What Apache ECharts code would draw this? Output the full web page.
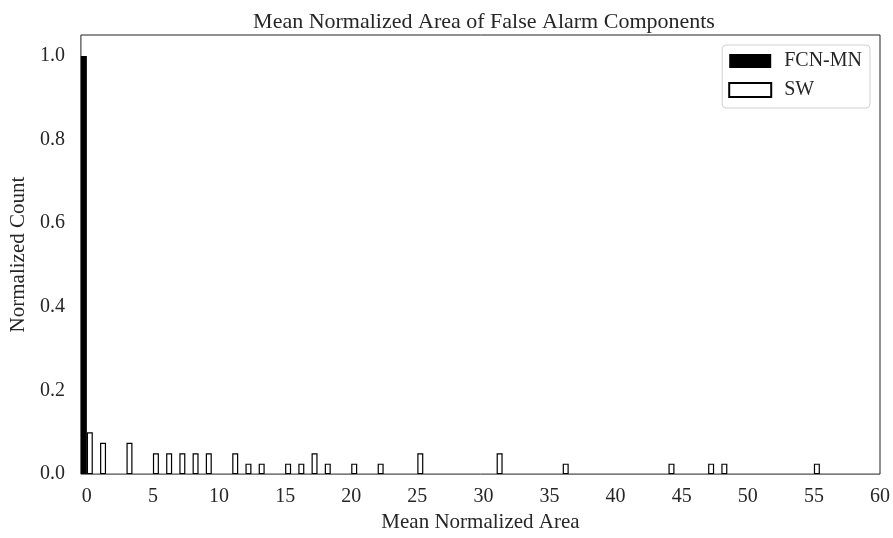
<!DOCTYPE html>
<html>
<head>
<meta charset="utf-8">
<title>Mean Normalized Area of False Alarm Components</title>
<script src="https://cdn.jsdelivr.net/npm/echarts@6/dist/echarts.min.js"></script>
<style>
	html, body { margin: 0; padding: 0; background: #fff; }
	#chart { width: 893px; height: 538px; }
</style>
</head>
<body>
<div id="chart"></div>
<script>
	// 直方图数据（每个 bin 宽 1，以整数为中心）
	const fcnBins = [0];
	const fcnValues = [1.0];

	const swBins = [0, 1, 3, 5, 6, 7, 8, 9, 11, 12, 13, 15, 16, 17, 18, 20, 22, 25, 31, 36, 44, 47, 48, 55];
	const swValues = [0.1, 0.075, 0.075, 0.05, 0.05, 0.05, 0.05, 0.05, 0.05, 0.025, 0.025, 0.025, 0.025, 0.05, 0.025, 0.025, 0.025, 0.05, 0.05, 0.025, 0.025, 0.025, 0.025, 0.025];

	// 刻度标签
	const xTicks = [0, 5, 10, 15, 20, 25, 30, 35, 40, 45, 50, 55, 60];
	const yTicks = [0, 0.2, 0.4, 0.6, 0.8, 1.0];

	const font = "Liberation Serif";
	const textColor = "#262626";

	// 两组并排：FCN-MN 在 bin 左半，SW 在 bin 右半
	const halfShift = 0.225;
	const fcnData = fcnBins.map((b, i) => [b - halfShift, fcnValues[i]]);
	const swData = swBins.map((b, i) => [b + halfShift, swValues[i]]);

	const myChart = echarts.init(document.getElementById("chart"));

	const option = {
		animation: false,
		backgroundColor: "#fff",
		title: {
			text: "Mean Normalized Area of False Alarm Components",
			left: 479,
			textAlign: "center",
			top: 6,
			textStyle: { fontFamily: font, fontSize: 22, fontWeight: "normal", color: textColor }
		},
		legend: {
			right: 23,
			top: 45,
			orient: "vertical",
			icon: "rect",
			itemWidth: 42,
			itemHeight: 14,
			itemGap: 9,
			padding: [6, 8, 8, 6],
			borderColor: "#d0d0d0",
			borderWidth: 1,
			borderRadius: 4,
			backgroundColor: "#fff",
			textStyle: { fontFamily: font, fontSize: 20, color: textColor, padding: [0, 0, 0, 8] },
			data: ["FCN-MN", "SW"]
		},
		grid: {
			left: 78,
			right: 12,
			top: 35,
			bottom: 61,
			show: true,
			borderColor: "#222",
			borderWidth: 1,
			containLabel: false
		},
		xAxis: {
			type: "value",
			min: -0.45,
			max: 60,
			name: "Mean Normalized Area",
			nameLocation: "middle",
			nameGap: 31,
			nameTextStyle: { fontFamily: font, fontSize: 21, color: textColor },
			axisLine: { show: false },
			axisTick: { show: false },
			splitLine: { show: false },
			axisLabel: {
				customValues: xTicks,
				margin: 13,
				fontFamily: font,
				fontSize: 20,
				color: textColor
			}
		},
		yAxis: {
			type: "value",
			min: 0,
			max: 1.05,
			name: "Normalized Count",
			nameLocation: "middle",
			nameGap: 47,
			nameTextStyle: { fontFamily: font, fontSize: 21, color: textColor },
			axisLine: { show: false },
			axisTick: { show: false },
			splitLine: { show: false },
			axisLabel: {
				customValues: yTicks,
				margin: 16,
				fontFamily: font,
				fontSize: 20,
				color: textColor,
				formatter: (v) => v.toFixed(1)
			}
		},
		series: [
			{
				name: "FCN-MN",
				type: "bar",
				barWidth: 6,
				barGap: "-100%",
				itemStyle: { color: "#000", borderColor: "#000", borderWidth: 0 },
				data: fcnData
			},
			{
				name: "SW",
				type: "bar",
				barWidth: 6,
				barGap: "-100%",
				itemStyle: { color: "#fff", borderColor: "#000", borderWidth: 1.2 },
				data: swData
			}
		]
	};

	myChart.setOption(option);

	window.addEventListener("resize", () => {
		myChart.resize();
	});
</script>
</body>
</html>
